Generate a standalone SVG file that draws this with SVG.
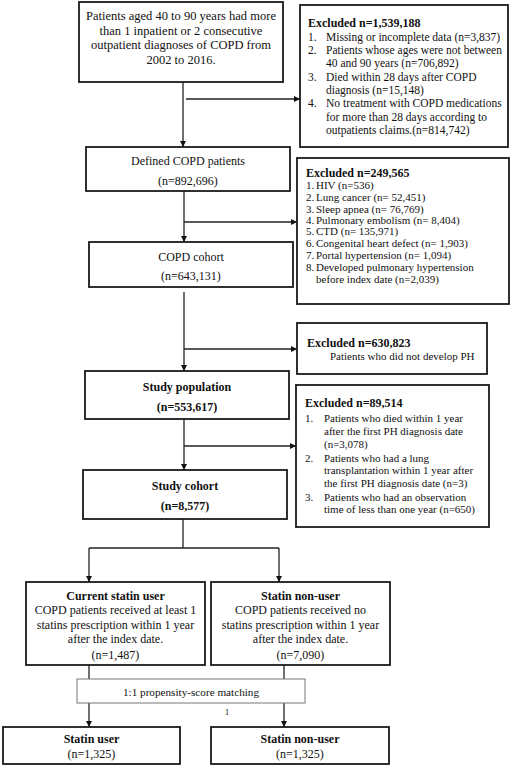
<svg xmlns="http://www.w3.org/2000/svg" width="512" height="766" viewBox="0 0 512 766">
<style>
text{font-family:"Liberation Serif","Times New Roman",serif;fill:#111}
.box{fill:#fff;stroke:#1a1a1a;stroke-width:1.8}
.pbox{fill:#fff;stroke:#777;stroke-width:1}
.c{text-anchor:middle;font-size:12px}
.b{font-weight:bold}
.h{font-weight:bold;font-size:12px}
.s{font-size:11.5px}
.s2{font-size:11px}
.ln{fill:none;stroke:#222;stroke-width:1.3}
</style>
<defs>
<marker id="ah" viewBox="0 0 10 10" refX="10" refY="5" markerWidth="6" markerHeight="6" markerUnits="userSpaceOnUse" orient="auto">
<path d="M0,0 L10,5 L0,10 z" fill="#111"/>
</marker>
</defs>
<rect width="512" height="766" fill="#fff"/>
<g id="connectors">
<path class="ln" d="M183,82 V147" marker-end="url(#ah)"/>
<path class="ln" d="M186,99 H300" marker-end="url(#ah)"/>
<path class="ln" d="M184,191 V242" marker-end="url(#ah)"/>
<path class="ln" d="M184,222 H297" marker-end="url(#ah)"/>
<path class="ln" d="M184,292 V371" marker-end="url(#ah)"/>
<path class="ln" d="M184,349 H297" marker-end="url(#ah)"/>
<path class="ln" d="M184,419 V470" marker-end="url(#ah)"/>
<path class="ln" d="M184,446 H296" marker-end="url(#ah)"/>
<path class="ln" d="M183,519 V548"/>
<path class="ln" d="M89,548 H279"/>
<path class="ln" d="M89,548 V582" marker-end="url(#ah)"/>
<path class="ln" d="M279,548 V582" marker-end="url(#ah)"/>
<path class="ln" d="M89,665 V727" marker-end="url(#ah)"/>
<path class="ln" d="M284,665 V727" marker-end="url(#ah)"/>
</g>
<g id="n1">
<rect class="box" x="79" y="2" width="204" height="80"/>
<g style="font-size:12.5px">
<text class="c" x="181" y="20" style="font-size:12.5px">Patients aged 40 to 90 years had more</text>
<text class="c" x="181" y="35" style="font-size:12.5px">than 1 inpatient or 2 consecutive</text>
<text class="c" x="181" y="49" style="font-size:12.5px">outpatient diagnoses of COPD from</text>
<text class="c" x="181" y="64" style="font-size:12.5px">2002 to 2016.</text>
</g>
</g>
<g id="ex1">
<rect class="box" x="300" y="5" width="208" height="142"/>
<text class="h" x="308" y="27">Excluded n=1,539,188</text>
<g class="s">
<text x="308" y="41">1.</text><text x="326" y="41">Missing or incomplete data (n=3,837)</text>
<text x="308" y="54">2.</text><text x="326" y="54">Patients whose ages were not between</text>
<text x="326" y="67">40 and 90 years (n=706,892)</text>
<text x="308" y="81">3.</text><text x="326" y="81">Died within 28 days after COPD</text>
<text x="326" y="94">diagnosis (n=15,148)</text>
<text x="308" y="107">4.</text><text x="326" y="107">No treatment with COPD medications</text>
<text x="326" y="121">for more than 28 days according to</text>
<text x="326" y="134">outpatients claims.(n=814,742)</text>
</g>
</g>
<g id="n2">
<rect class="box" x="86" y="147" width="204" height="44"/>
<text class="c" x="188" y="165">Defined COPD patients</text>
<text class="c" x="188" y="185">(n=892,696)</text>
</g>
<g id="ex2">
<rect class="box" x="297" y="158" width="212" height="146"/>
<text class="h" x="306" y="177">Excluded n=249,565</text>
<g class="s2">
<text x="306" y="189">1.</text><text x="316" y="189">HIV (n=536)</text>
<text x="306" y="201">2.</text><text x="316" y="201">Lung cancer (n= 52,451)</text>
<text x="306" y="213">3.</text><text x="316" y="213">Sleep apnea (n= 76,769)</text>
<text x="306" y="224">4.</text><text x="316" y="224">Pulmonary embolism (n= 8,404)</text>
<text x="306" y="235">5.</text><text x="316" y="235">CTD (n= 135,971)</text>
<text x="306" y="247">6.</text><text x="316" y="247">Congenital heart defect (n= 1,903)</text>
<text x="306" y="259">7.</text><text x="316" y="259">Portal hypertension (n= 1,094)</text>
<text x="306" y="271">8.</text><text x="316" y="271">Developed pulmonary hypertension</text>
<text x="316" y="283">before index date (n=2,039)</text>
</g>
</g>
<g id="n3">
<rect class="box" x="89" y="242" width="204" height="45"/>
<text class="c" x="191" y="261">COPD cohort</text>
<text class="c" x="191" y="280">(n=643,131)</text>
</g>
<g id="ex3">
<rect class="box" x="297" y="323" width="190" height="51"/>
<text class="h" x="307" y="347">Excluded n=630,823</text>
<text class="s2" x="330" y="360">Patients who did not develop PH</text>
</g>
<g id="n4">
<rect class="box" x="85" y="371" width="204" height="48"/>
<text class="c b" x="187" y="391">Study population</text>
<text class="c b" x="187" y="411">(n=553,617)</text>
</g>
<g id="ex4">
<rect class="box" x="296" y="385" width="193" height="142"/>
<text class="h" x="305" y="407">Excluded n=89,514</text>
<g class="s2">
<text x="305" y="422">1.</text><text x="324" y="422">Patients who died within 1 year</text>
<text x="324" y="435">after the first PH diagnosis date</text>
<text x="324" y="448">(n=3,078)</text>
<text x="305" y="462">2.</text><text x="324" y="462">Patients who had a lung</text>
<text x="324" y="474">transplantation within 1 year after</text>
<text x="324" y="487">the first PH diagnosis date (n=3)</text>
<text x="305" y="501">3.</text><text x="324" y="501">Patients who had an observation</text>
<text x="324" y="513">time of less than one year (n=650)</text>
</g>
</g>
<g id="n5">
<rect class="box" x="83" y="470" width="204" height="49"/>
<text class="c b" x="185" y="490">Study cohort</text>
<text class="c b" x="185" y="510">(n=8,577)</text>
</g>
<g id="n6">
<rect class="box" x="26" y="582" width="179" height="83"/>
<text class="c b" x="115.5" y="600">Current statin user</text>
<text class="c" x="115.5" y="614">COPD patients received at least 1</text>
<text class="c" x="115.5" y="629">statins prescription within 1 year</text>
<text class="c" x="115.5" y="643">after the index date.</text>
<text class="c" x="115.5" y="659">(n=1,487)</text>
</g>
<g id="n7">
<rect class="box" x="211" y="582" width="179" height="83"/>
<text class="c b" x="300.5" y="600">Statin non-user</text>
<text class="c" x="300.5" y="614">COPD patients received no</text>
<text class="c" x="300.5" y="629">statins prescription within 1 year</text>
<text class="c" x="300.5" y="643">after the index date.</text>
<text class="c" x="300.5" y="659">(n=7,090)</text>
</g>
<g id="n8">
<rect class="pbox" x="77" y="679" width="228" height="24"/>
<text class="c" x="191" y="696" style="font-size:11.2px">1:1 propensity-score matching</text>
<text x="227" y="715" style="font-size:9px;text-anchor:middle">1</text>
</g>
<g id="n9">
<rect class="box" x="3" y="727" width="177" height="37"/>
<text class="c b" x="91.5" y="743">Statin user</text>
<text class="c" x="91.5" y="758">(n=1,325)</text>
</g>
<g id="n10">
<rect class="box" x="211" y="727" width="178" height="37"/>
<text class="c b" x="300" y="743">Statin non-user</text>
<text class="c" x="300" y="758">(n=1,325)</text>
</g>
</svg>
